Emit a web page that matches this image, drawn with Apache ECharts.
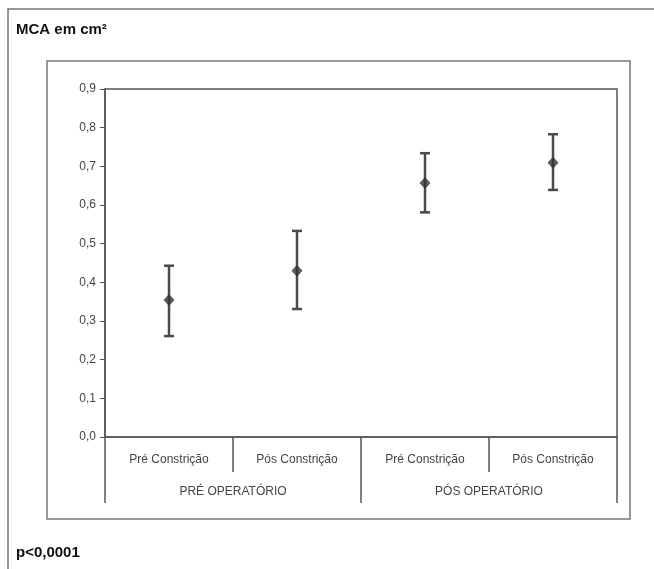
<!DOCTYPE html>
<html>
<head>
<meta charset="utf-8">
<script src="https://cdn.jsdelivr.net/npm/echarts@6/dist/echarts.min.js"></script>
<style>
  html, body { margin: 0; padding: 0; background: #fff; }
  #chart { width: 654px; height: 569px; }
</style>
</head>
<body>
<div id="chart"></div>
<script>
// categorias e grupos
const categories = ["Pré Constrição", "Pós Constrição", "Pré Constrição", "Pós Constrição"];
const groups = ["PRÉ OPERATÓRIO", "PÓS OPERATÓRIO"];
// MCA em cm² (média, limite inferior, limite superior)
const means = [0.354, 0.430, 0.657, 0.709];
const lower = [0.261, 0.331, 0.581, 0.639];
const upper = [0.443, 0.533, 0.734, 0.783];

const chart = echarts.init(document.getElementById("chart"));
const font = "Liberation Sans, Arial, sans-serif";
const lineColor = "#555";

function renderErrorBar(params, api) {
  const x = api.value(0);
  const top = api.coord([x, api.value(2)]);
  const bottom = api.coord([x, api.value(1)]);
  const half = 5;
  const style = { stroke: "#4a4a4a", lineWidth: 2.5 };
  return {
    type: "group",
    children: [
      { type: "line", shape: { x1: top[0], y1: top[1], x2: bottom[0], y2: bottom[1] }, style },
      { type: "line", shape: { x1: top[0] - half, y1: top[1], x2: top[0] + half, y2: top[1] }, style },
      { type: "line", shape: { x1: bottom[0] - half, y1: bottom[1], x2: bottom[0] + half, y2: bottom[1] }, style },
    ],
  };
}

const option = {
  backgroundColor: "#fff",
  animation: false,
  textStyle: { fontFamily: font },
  graphic: [
    // moldura externa
    { type: "rect", shape: { x: 8, y: 9, width: 700, height: 600 }, style: { fill: "none", stroke: "#777", lineWidth: 1.5 } },
    // moldura interna
    { type: "rect", shape: { x: 47, y: 61, width: 583, height: 458 }, style: { fill: "none", stroke: "#777", lineWidth: 1.5 } },
    { type: "text", left: 16, top: 22, style: { text: "MCA em cm²", font: "bold 15px " + font, fill: "#111" } },
    { type: "text", left: 16, top: 545, style: { text: "p<0,0001", font: "bold 15px " + font, fill: "#111" } },
  ],
  grid: {
    left: 105,
    top: 89,
    right: 37,
    bottom: 132,
    show: true,
    borderColor: lineColor,
    borderWidth: 1.5,
    containLabel: false,
  },
  xAxis: [
    {
      type: "category",
      data: categories,
      position: "bottom",
      axisLine: { onZero: false, lineStyle: { color: lineColor, width: 1.5 } },
      axisTick: { show: true, length: 35, alignWithLabel: false, lineStyle: { color: lineColor, width: 1.5 } },
      axisLabel: { margin: 17, color: "#444", fontSize: 12, fontFamily: font, interval: 0 },
    },
    {
      type: "category",
      data: groups,
      position: "bottom",
      axisLine: { show: false, onZero: false },
      axisTick: { show: true, length: 66, alignWithLabel: false, lineStyle: { color: lineColor, width: 1.5 } },
      axisLabel: { margin: 49, color: "#444", fontSize: 12, fontFamily: font, interval: 0 },
    },
  ],
  yAxis: {
    type: "value",
    min: 0,
    max: 0.9,
    interval: 0.1,
    axisLine: { show: true, lineStyle: { color: lineColor, width: 1.5 } },
    axisTick: { show: true, length: 5, lineStyle: { color: lineColor } },
    splitLine: { show: false },
    axisLabel: {
      margin: 9,
      color: "#444",
      fontSize: 12,
      fontFamily: font,
      formatter: (v) => v.toFixed(1).replace(".", ","),
    },
  },
  series: [
    {
      type: "custom",
      xAxisIndex: 0,
      renderItem: renderErrorBar,
      encode: { x: 0, y: [1, 2] },
      data: categories.map((c, i) => [i, lower[i], upper[i]]),
      z: 2,
    },
    {
      type: "scatter",
      xAxisIndex: 0,
      symbol: "diamond",
      symbolSize: [11, 12],
      itemStyle: { color: "#333" },
      data: means.map((m, i) => [i, m]),
      z: 3,
    },
  ],
};

chart.setOption(option);
</script>
</body>
</html>
